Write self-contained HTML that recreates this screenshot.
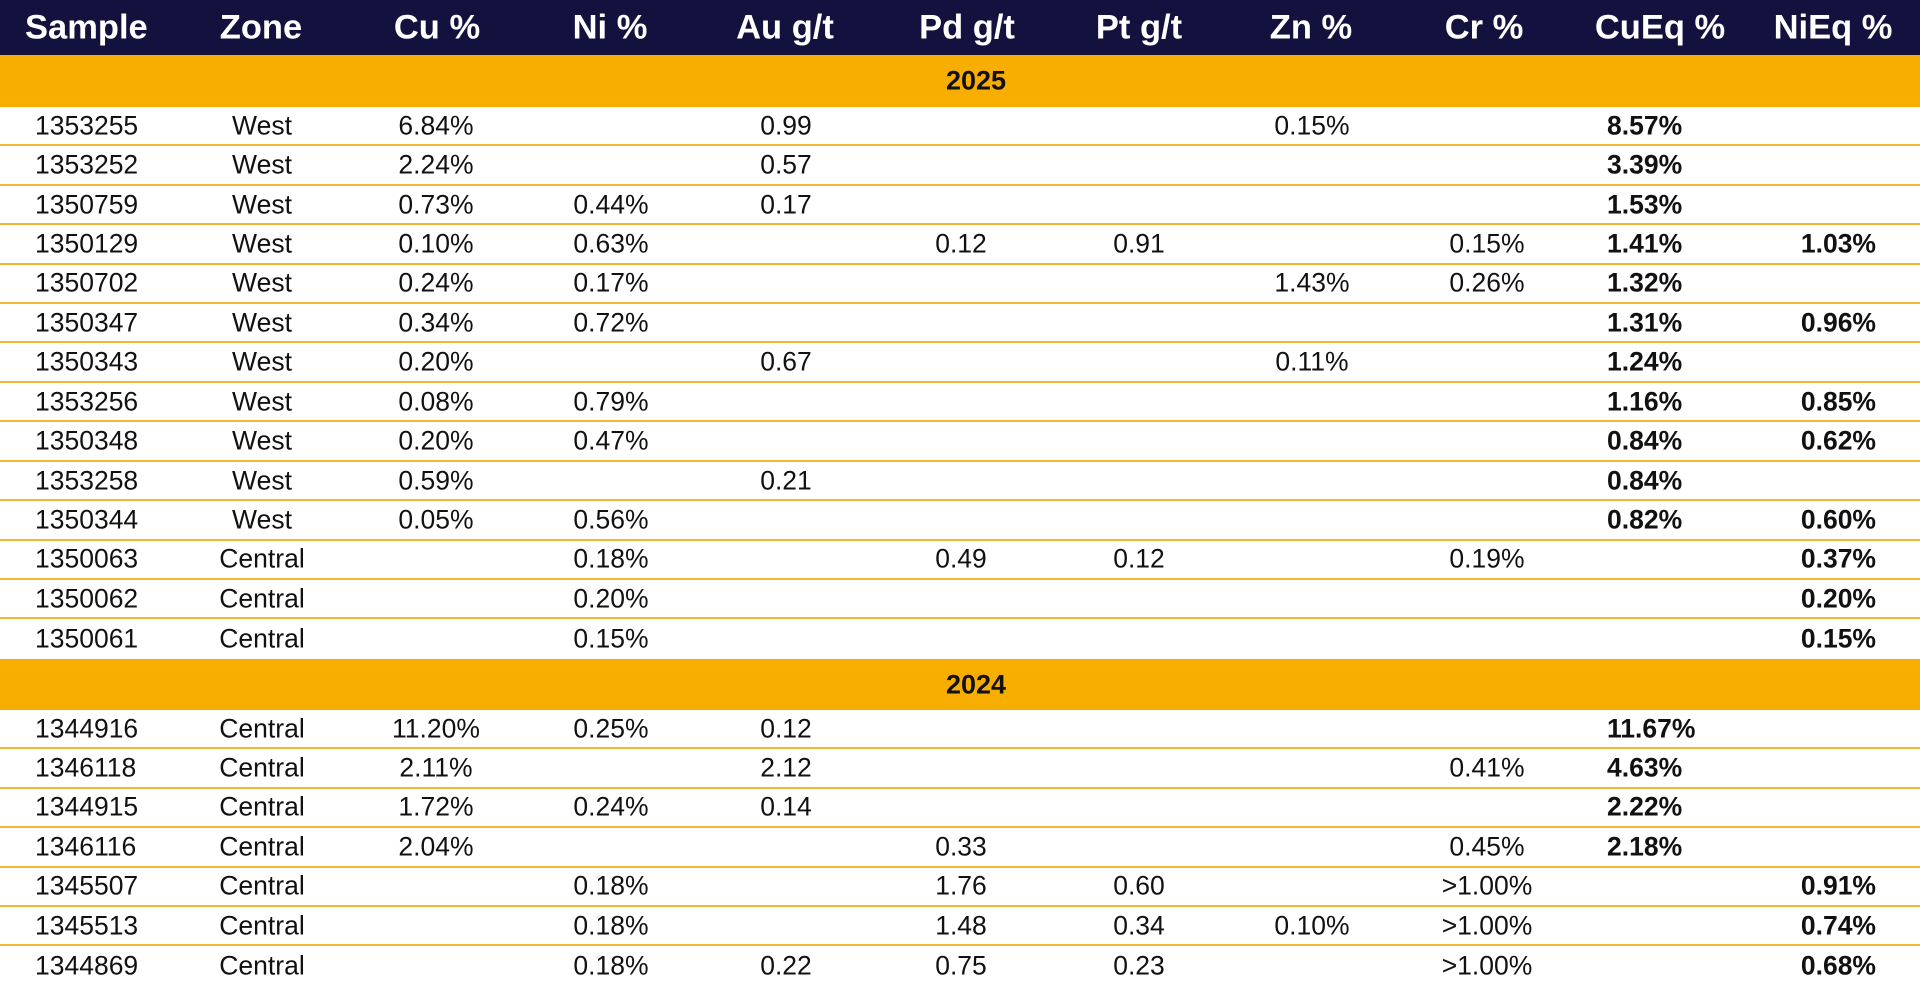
<!DOCTYPE html>
<html><head><meta charset="utf-8"><style>
html,body{margin:0;padding:0;width:1920px;height:992px;background:#fff;overflow:hidden;font-family:"Liberation Sans",Arial,sans-serif;}
.hdr{position:absolute;left:0;top:0;width:1920px;height:55px;background:#13123f;}
.band{position:absolute;left:0;width:1920px;background:#f7ae00;}
.row{position:absolute;left:0;width:1920px;height:39.4px;border-bottom:2.5px solid #f5b535;box-sizing:border-box;}
.row span,.hdr span,.band span{position:absolute;top:50%;transform:translate(-50%,-50%);white-space:nowrap;}
.row span{font-size:26.5px;color:#111;}
.hdr span{font-size:34.5px;font-weight:bold;color:#fff;}
.band span{font-size:27px;font-weight:bold;color:#111;}
.row span.l{transform:translate(0,-50%);}
.row span.r{transform:translate(-100%,-50%);}
.row span.b{font-weight:bold;}
.s{left:35px}.z{left:262px}.cu{left:436px}.ni{left:611px}.au{left:786px}.pd{left:961px}.pt{left:1139px}.zn{left:1312px}.cr{left:1487px}.ce{left:1607px}.ne{left:1876px}
</style></head><body>
<div class="hdr">
<span style="left:25px;transform:translate(0,-50%)">Sample</span>
<span style="left:261px">Zone</span>
<span style="left:437px">Cu %</span>
<span style="left:610px">Ni %</span>
<span style="left:785px">Au g/t</span>
<span style="left:967px">Pd g/t</span>
<span style="left:1139px">Pt g/t</span>
<span style="left:1311px">Zn %</span>
<span style="left:1484px">Cr %</span>
<span style="left:1660px">CuEq %</span>
<span style="left:1833px">NiEq %</span>
</div>
<div class="band" style="top:55px;height:52px"><span style="left:976px">2025</span></div>

<div class="row" style="top:107px"><span class="s l">1353255</span><span class="z">West</span><span class="cu">6.84%</span><span class="au">0.99</span><span class="zn">0.15%</span><span class="ce l b">8.57%</span></div>
<div class="row" style="top:146.4px"><span class="s l">1353252</span><span class="z">West</span><span class="cu">2.24%</span><span class="au">0.57</span><span class="ce l b">3.39%</span></div>
<div class="row" style="top:185.9px"><span class="s l">1350759</span><span class="z">West</span><span class="cu">0.73%</span><span class="ni">0.44%</span><span class="au">0.17</span><span class="ce l b">1.53%</span></div>
<div class="row" style="top:225.3px"><span class="s l">1350129</span><span class="z">West</span><span class="cu">0.10%</span><span class="ni">0.63%</span><span class="pd">0.12</span><span class="pt">0.91</span><span class="cr">0.15%</span><span class="ce l b">1.41%</span><span class="ne r b">1.03%</span></div>
<div class="row" style="top:264.7px"><span class="s l">1350702</span><span class="z">West</span><span class="cu">0.24%</span><span class="ni">0.17%</span><span class="zn">1.43%</span><span class="cr">0.26%</span><span class="ce l b">1.32%</span></div>
<div class="row" style="top:304.1px"><span class="s l">1350347</span><span class="z">West</span><span class="cu">0.34%</span><span class="ni">0.72%</span><span class="ce l b">1.31%</span><span class="ne r b">0.96%</span></div>
<div class="row" style="top:343.6px"><span class="s l">1350343</span><span class="z">West</span><span class="cu">0.20%</span><span class="au">0.67</span><span class="zn">0.11%</span><span class="ce l b">1.24%</span></div>
<div class="row" style="top:383px"><span class="s l">1353256</span><span class="z">West</span><span class="cu">0.08%</span><span class="ni">0.79%</span><span class="ce l b">1.16%</span><span class="ne r b">0.85%</span></div>
<div class="row" style="top:422.4px"><span class="s l">1350348</span><span class="z">West</span><span class="cu">0.20%</span><span class="ni">0.47%</span><span class="ce l b">0.84%</span><span class="ne r b">0.62%</span></div>
<div class="row" style="top:461.9px"><span class="s l">1353258</span><span class="z">West</span><span class="cu">0.59%</span><span class="au">0.21</span><span class="ce l b">0.84%</span></div>
<div class="row" style="top:501.3px"><span class="s l">1350344</span><span class="z">West</span><span class="cu">0.05%</span><span class="ni">0.56%</span><span class="ce l b">0.82%</span><span class="ne r b">0.60%</span></div>
<div class="row" style="top:540.7px"><span class="s l">1350063</span><span class="z">Central</span><span class="ni">0.18%</span><span class="pd">0.49</span><span class="pt">0.12</span><span class="cr">0.19%</span><span class="ne r b">0.37%</span></div>
<div class="row" style="top:580.1px"><span class="s l">1350062</span><span class="z">Central</span><span class="ni">0.20%</span><span class="ne r b">0.20%</span></div>
<div class="row" style="top:619.6px;border-bottom:none"><span class="s l">1350061</span><span class="z">Central</span><span class="ni">0.15%</span><span class="ne r b">0.15%</span></div>

<div class="band" style="top:659px;height:51px"><span style="left:976px">2024</span></div>

<div class="row" style="top:710px"><span class="s l">1344916</span><span class="z">Central</span><span class="cu">11.20%</span><span class="ni">0.25%</span><span class="au">0.12</span><span class="ce l b">11.67%</span></div>
<div class="row" style="top:749.4px"><span class="s l">1346118</span><span class="z">Central</span><span class="cu">2.11%</span><span class="au">2.12</span><span class="cr">0.41%</span><span class="ce l b">4.63%</span></div>
<div class="row" style="top:788.8px"><span class="s l">1344915</span><span class="z">Central</span><span class="cu">1.72%</span><span class="ni">0.24%</span><span class="au">0.14</span><span class="ce l b">2.22%</span></div>
<div class="row" style="top:828.2px"><span class="s l">1346116</span><span class="z">Central</span><span class="cu">2.04%</span><span class="pd">0.33</span><span class="cr">0.45%</span><span class="ce l b">2.18%</span></div>
<div class="row" style="top:867.6px"><span class="s l">1345507</span><span class="z">Central</span><span class="ni">0.18%</span><span class="pd">1.76</span><span class="pt">0.60</span><span class="cr">&gt;1.00%</span><span class="ne r b">0.91%</span></div>
<div class="row" style="top:907px"><span class="s l">1345513</span><span class="z">Central</span><span class="ni">0.18%</span><span class="pd">1.48</span><span class="pt">0.34</span><span class="zn">0.10%</span><span class="cr">&gt;1.00%</span><span class="ne r b">0.74%</span></div>
<div class="row" style="top:946.4px;border-bottom:none"><span class="s l">1344869</span><span class="z">Central</span><span class="ni">0.18%</span><span class="au">0.22</span><span class="pd">0.75</span><span class="pt">0.23</span><span class="cr">&gt;1.00%</span><span class="ne r b">0.68%</span></div>
</body></html>
